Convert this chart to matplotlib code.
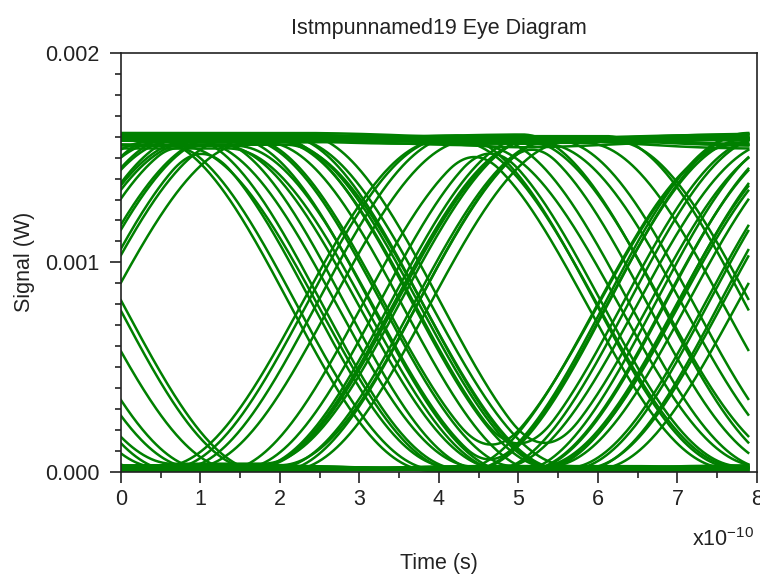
import numpy as np
import matplotlib
matplotlib.use("Agg")
import matplotlib.pyplot as plt
from matplotlib.ticker import MultipleLocator, FixedLocator

plt.rcParams['font.family'] = ['Liberation Sans', 'DejaVu Sans']

# bit levels of the simulated sequence (uW), 128 bits
levels_uW = [1598, 1585, 12, 1603, 5, 20, 1572, 1590,
             1607, 8, 30, 3, 1561, 15, 1594, 1580,
             0, 25, 1588, 10, 1600, 1576, 1609, 1567,
             18, 1583, 1597, 6, 2, 27, 11, 1592,
             1555, 4, 1605, 22, 1579, 9, 14, 1601,
             1586, 1611, 7, 1570, 1595, 1, 1602, 19,
             13, 3, 1589, 1558, 28, 6, 1604, 1582,
             1593, 16, 1575, 0, 1608, 1564, 24, 10,
             2, 1599, 21, 1587, 1610, 1571, 8, 17,
             1596, 5, 29, 1584, 1603, 12, 1560, 1591,
             1578, 23, 0, 9, 1606, 1590, 14, 1599,
             26, 4, 1581, 11, 1594, 1607, 20, 1585,
             1615, 1548, 1592, 35, 3, 1569, 17, 6,
             31, 1600, 1557, 2, 1613, 19, 1575, 1596,
             1544, 0, 14, 1587, 38, 1606, 1562, 9,
             22, 5, 1618, 1583, 1599, 33, 1571, 12]

# timing offset of each bit edge (x1e-10 s)
jitter = [0.72, -0.85, 0.31, -0.48, 0.95, -1.02, 0.12, 0.58, -0.27, 0.84,
          -0.66, 0.40, -0.93, 0.05, 0.67, -0.38, 1.04, -0.15, 0.23, -0.74,
          0.49, -0.57, 0.88, -1.08, 0.17, -0.31, 0.76, -0.83, 0.36, -0.02,
          0.99, -0.61, 0.28, -0.45, 0.63, -0.56, 0.09, 0.81, -0.22, 0.44,
          -0.70, 0.55, -0.11, 0.92, -0.88, 0.20, -0.52, 0.71, -0.35, 1.07,
          -0.79, 0.14, -0.63, 0.39, -0.05, 0.86, -1.00, 0.33, -0.41, 0.60,
          -0.18, 0.97, -0.90, 0.26, -0.56, 0.78, -0.29, 0.51, -0.77, 0.02,
          0.69, -1.05, 0.45, -0.13, 0.90, -0.67, 0.19, -0.43, 0.83, -0.98,
          0.36, -0.24, 0.64, -0.72, 0.11, 1.01, -0.50, 0.30, -0.86, 0.57,
          -0.08, 0.75, -0.59, 0.21, -0.94, 0.48, -0.33, 0.62, -0.37, 0.93,
          -0.69, 0.07, -1.03, 0.52, -0.16, 0.80, -0.47, 0.24, -0.81, 1.06,
          -0.26, 0.41, -0.64, 0.15, -0.97, 0.73, -0.10, 0.58, -0.53, 0.87,
          -0.34, 0.04, -0.76, 0.98, -0.20, 0.35, -0.89, 0.66, -0.44]

bit_period = 3.95      # x1e-10 s
edge_time = 3.5        # rise / fall duration, x1e-10 s
first_edge = -1.0      # edge position inside the window
window = 7.89

lev = np.array(levels_uW) * 1e-6
steps = np.diff(lev)
k = np.arange(1, len(lev))
edges = first_edge + k * bit_period + np.array(jitter)[k]

fig = plt.figure(figsize=(7.6, 5.78), dpi=100)
ax = fig.add_axes([0.1592, 0.1839, 0.8368, 0.7244])

tau = np.linspace(0, window, 500)
n_win = (len(lev) - 3) // 2 + 1
for w in range(n_win):
    t = w * 2 * bit_period + tau
    r = np.clip((t[:, None] - edges[None, :] + edge_time / 2) / edge_time, 0, 1)
    sig = lev[0] + (0.5 - 0.5 * np.cos(np.pi * r)) @ steps
    ax.plot(tau, sig, color='#008000', lw=1.8)

ax.set_xlim(0, 8)
ax.set_ylim(0, 0.002)
ax.xaxis.set_major_locator(MultipleLocator(1))
ax.xaxis.set_minor_locator(MultipleLocator(0.5))
ax.yaxis.set_major_locator(FixedLocator([0, 0.001, 0.002]))
ax.yaxis.set_minor_locator(MultipleLocator(0.0001))
ax.set_yticklabels(['0.000', '0.001', '0.002'])
ax.tick_params(which='both', direction='out', labelsize=15.5, colors='#222222', width=1.2)
ax.tick_params(which='major', length=8)
ax.tick_params(which='minor', length=4.5)
ax.tick_params(axis='y', pad=7.5)
ax.tick_params(axis='x', pad=4.5)
for sp in ax.spines.values():
    sp.set_linewidth(1.2)
    sp.set_color('#222222')

ax.set_title('Istmpunnamed19 Eye Diagram', fontsize=15.5, pad=14, color='#222222')
ax.set_xlabel('Time (s)', fontsize=15.5, labelpad=31, color='#222222')
ax.set_ylabel('Signal (W)', fontsize=15.5, labelpad=7, color='#222222')
ax.text(0.995, -0.135, r'x10$^{\mathregular{-10}}$', transform=ax.transAxes,
        ha='right', va='top', fontsize=15.5, color='#222222')

fig.savefig('out.png', dpi=100)
